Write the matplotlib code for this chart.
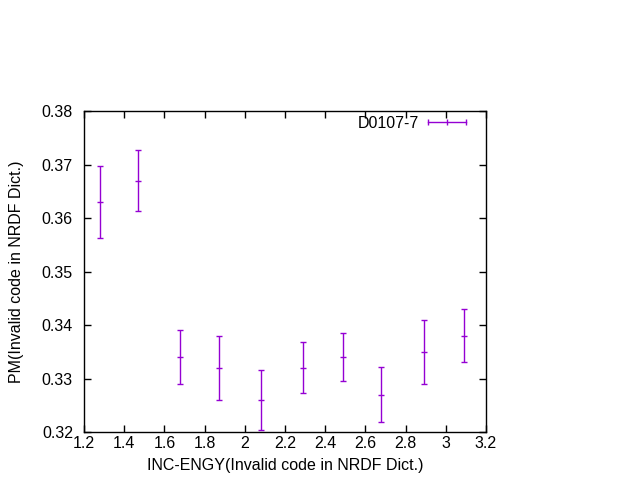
import matplotlib
matplotlib.use("Agg")
import matplotlib.pyplot as plt
from matplotlib.lines import Line2D

plt.rcParams['font.family'] = ['Liberation Sans', 'DejaVu Sans']

# Donnees
inc_engy = [1.28, 1.47, 1.68, 1.87, 2.08, 2.29, 2.49, 2.68, 2.89, 3.09]
pm = [0.363, 0.367, 0.334, 0.332, 0.326, 0.332, 0.334, 0.327, 0.335, 0.338]
pm_err = [0.0068, 0.0057, 0.0050, 0.0060, 0.0056, 0.0048, 0.0045, 0.0052, 0.0060, 0.0049]

color = '#9400D3'

fig = plt.figure(figsize=(6.4, 4.8), dpi=100)
ax = fig.add_axes([84 / 640, 48 / 480, 402 / 640, 321 / 480])

ax.errorbar(inc_engy, pm, yerr=pm_err, fmt='none', ecolor=color,
            elinewidth=1, capsize=2, capthick=1)
ax.plot(inc_engy, pm, linestyle='none', marker='_', markersize=5,
        color=color, markeredgewidth=1)

ax.set_xlim(1.2, 3.2)
ax.set_ylim(0.32, 0.38)
ax.set_xticks([1.2, 1.4, 1.6, 1.8, 2.0, 2.2, 2.4, 2.6, 2.8, 3.0, 3.2])
ax.set_xticklabels(['1.2', '1.4', '1.6', '1.8', '2', '2.2', '2.4', '2.6', '2.8', '3', '3.2'])
ax.set_yticks([0.32, 0.33, 0.34, 0.35, 0.36, 0.37, 0.38])
ax.tick_params(direction='in', top=True, right=True, length=5, width=1,
               labelsize=11.5)
ax.tick_params(axis='x', pad=3)
ax.tick_params(axis='y', pad=8)
for s in ax.spines.values():
    s.set_linewidth(1)

ax.set_xlabel('INC-ENGY(Invalid code in NRDF Dict.)', fontsize=11.5, labelpad=5)
ax.set_ylabel('PM(Invalid code in NRDF Dict.)', fontsize=11.5, labelpad=13)

handle = Line2D([], [], color=color, linewidth=1, marker='|', markersize=4,
                markeredgewidth=1)
ax.legend([handle], ['D0107-7'], loc='upper right', frameon=False,
          markerfirst=False, numpoints=3, fontsize=11.5, handlelength=3.0,
          borderaxespad=0.0, borderpad=0.3, handletextpad=0.25,
          bbox_to_anchor=(1 - 10 / 402, 1.0))

plt.savefig('out.png', dpi=100)
